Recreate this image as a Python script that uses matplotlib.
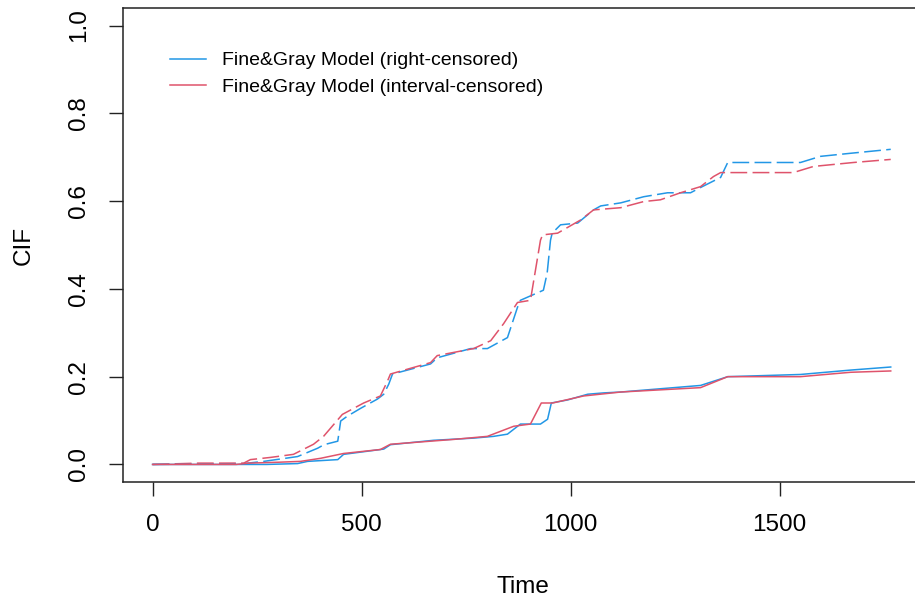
import matplotlib
matplotlib.use("Agg")
import matplotlib.pyplot as plt

plt.rcParams['font.family'] = ['Liberation Sans', 'DejaVu Sans']

# upper curves (dashed)
rc_up_t = [0, 218, 266, 347, 395, 410, 443, 450, 466, 498, 538, 553, 565, 574, 665, 681,
           761, 801, 849, 873, 880, 935, 944, 952, 956, 976, 1017, 1055, 1072, 1120, 1175,
           1232, 1287, 1311, 1359, 1376, 1550, 1598, 1670, 1766]
rc_up_y = [0, 0.002, 0.007, 0.018, 0.037, 0.045, 0.053, 0.099, 0.11, 0.128, 0.149, 0.16,
           0.183, 0.206, 0.229, 0.243, 0.264, 0.264, 0.289, 0.358, 0.374, 0.397, 0.436,
           0.511, 0.527, 0.546, 0.55, 0.58, 0.589, 0.596, 0.61, 0.619, 0.619, 0.631, 0.654,
           0.688, 0.688, 0.702, 0.709, 0.718]

ic_up_t = [0, 110, 218, 234, 282, 337, 385, 409, 454, 505, 545, 562, 569, 665, 681, 768,
           809, 840, 873, 904, 928, 933, 969, 1024, 1055, 1120, 1175, 1215, 1263, 1311,
           1342, 1359, 1533, 1581, 1677, 1766]
ic_up_y = [0, 0.003, 0.003, 0.011, 0.016, 0.023, 0.046, 0.064, 0.114, 0.14, 0.156, 0.19,
           0.206, 0.232, 0.248, 0.264, 0.282, 0.321, 0.369, 0.374, 0.511, 0.523, 0.527,
           0.557, 0.58, 0.585, 0.599, 0.603, 0.619, 0.633, 0.656, 0.665, 0.665, 0.679,
           0.688, 0.695]

# lower curves (solid)
rc_lo_t = [0, 273, 347, 371, 443, 457, 553, 569, 672, 768, 816, 849, 880, 928, 945, 954,
           993, 1041, 1079, 1120, 1311, 1376, 1550, 1670, 1766]
rc_lo_y = [0, 0, 0.002, 0.007, 0.011, 0.023, 0.035, 0.045, 0.055, 0.06, 0.064, 0.069,
           0.092, 0.092, 0.103, 0.14, 0.147, 0.16, 0.163, 0.165, 0.18, 0.2, 0.205, 0.215,
           0.222]

ic_lo_t = [0, 200, 230, 300, 354, 402, 457, 545, 569, 720, 801, 864, 904, 930, 957, 1031,
           1120, 1311, 1376, 1550, 1670, 1766]
ic_lo_y = [0, 0, 0.003, 0.005, 0.007, 0.014, 0.025, 0.034, 0.046, 0.057, 0.064, 0.087,
           0.092, 0.14, 0.14, 0.156, 0.165, 0.175, 0.2, 0.2, 0.21, 0.213]

labels = ["Fine&Gray Model (right-censored)", "Fine&Gray Model (interval-censored)"]
blue = "#2297E6"
red = "#DF536B"

fig = plt.figure(figsize=(9.15, 6.01), dpi=100)
ax = fig.add_axes([123 / 915, 1 - 482 / 601, (922 - 123) / 915, (482 - 8) / 601])

dash = (11, 3.5)
ax.plot(rc_up_t, rc_up_y, color=blue, lw=1.1, dashes=dash)
ax.plot(ic_up_t, ic_up_y, color=red, lw=1.1, dashes=dash)
ax.plot(rc_lo_t, rc_lo_y, color=blue, lw=1.1, label=labels[0])
ax.plot(ic_lo_t, ic_lo_y, color=red, lw=1.1, label=labels[1])

xmax = 1770
ax.set_xlim(-0.04 * xmax, 1.04 * xmax)
ax.set_ylim(-0.04, 1.04)
ax.set_xticks([0, 500, 1000, 1500])
ax.set_yticks([0.0, 0.2, 0.4, 0.6, 0.8, 1.0])
ax.set_yticklabels(["0.0", "0.2", "0.4", "0.6", "0.8", "1.0"], rotation=90, va='center')
ax.tick_params(length=10, width=1, labelsize=17.5, color='#222222')
ax.tick_params(axis='x', pad=13)
ax.tick_params(axis='y', pad=14)
for s in ax.spines.values():
    s.set_linewidth(1.1)
    s.set_color('#222222')

ax.set_xlabel("Time", fontsize=17.5, labelpad=29)
ax.set_ylabel("CIF", fontsize=17.5, labelpad=24)

ax.legend(loc='upper left', bbox_to_anchor=(0.0463, 0.928), frameon=False, fontsize=14,
          borderpad=0, handlelength=1.85, handletextpad=0.85, labelspacing=0.47)

fig.savefig("out.png", dpi=100)
